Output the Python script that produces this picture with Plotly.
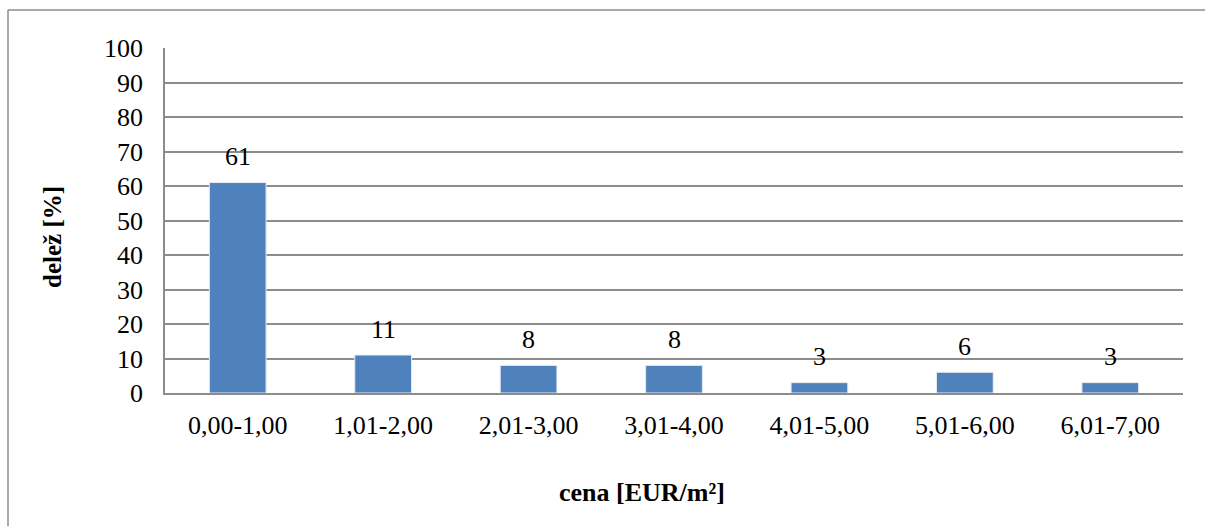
import plotly.graph_objects as go

# Price classes and share of offers in each class
categories = ["0,00-1,00", "1,01-2,00", "2,01-3,00", "3,01-4,00",
              "4,01-5,00", "5,01-6,00", "6,01-7,00"]
shares = [61, 11, 8, 8, 3, 6, 3]
y_ticks = [0, 10, 20, 30, 40, 50, 60, 70, 80, 90, 100]

W, H = 1205, 526
ML, MR, MT, MB = 165, 22, 48, 133
FONT = "Liberation Serif, Times New Roman, serif"
GRID = "#8c8c8c"


def px_x(p):
    return (p - ML) / (W - ML - MR)


def px_y(p):
    return (H - MB - p) / (H - MT - MB)


fig = go.Figure(
    go.Bar(
        x=categories,
        y=shares,
        width=0.39,
        marker=dict(color="#4f81bd", line=dict(color="#e4eaf2", width=1)),
        hoverinfo="x+y",
    )
)

# value labels above each bar
for c, v in zip(categories, shares):
    fig.add_annotation(
        x=c, y=v, text=str(v), showarrow=False,
        yanchor="middle", yshift=26,
        font=dict(family=FONT, size=26, color="black"),
    )

# axis titles, placed relative to the whole chart area
fig.add_annotation(
    xref="paper", yref="paper", x=px_x(642), y=px_y(492),
    xanchor="center", yanchor="middle", showarrow=False,
    text="<b>cena [EUR/m²]</b>", font=dict(family=FONT, size=26),
)
fig.add_annotation(
    xref="paper", yref="paper", x=px_x(53), y=px_y(237),
    xanchor="center", yanchor="middle", showarrow=False, textangle=-90,
    text="<b>delež [%]</b>", font=dict(family=FONT, size=25),
)

# outer chart frame (left and top edges visible)
fig.add_shape(type="line", xref="paper", yref="paper",
              x0=px_x(8), x1=px_x(8), y0=px_y(10), y1=px_y(540),
              line=dict(color=GRID, width=1.5))
fig.add_shape(type="line", xref="paper", yref="paper",
              x0=px_x(8), x1=px_x(1220), y0=px_y(10), y1=px_y(10),
              line=dict(color=GRID, width=1.5))

fig.update_layout(
    width=W, height=H,
    margin=dict(l=ML, r=MR, t=MT, b=MB),
    paper_bgcolor="white", plot_bgcolor="white",
    font=dict(family=FONT, size=26, color="black"),
    showlegend=False,
    xaxis=dict(
        showline=True, linecolor=GRID, linewidth=1.5,
        showgrid=False, ticks="", ticklabelstandoff=8,
        tickfont=dict(family=FONT, size=26),
    ),
    yaxis=dict(
        range=[0, 100], tickvals=y_ticks,
        showline=True, linecolor=GRID, linewidth=1.5,
        showgrid=True, gridcolor=GRID, gridwidth=1.5,
        zeroline=False, ticks="", ticklabelstandoff=15,
        tickfont=dict(family=FONT, size=26),
    ),
)

fig.write_html("out.html")
